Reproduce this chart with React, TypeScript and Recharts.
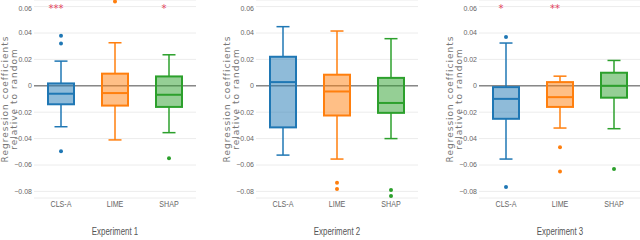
import { ComposedChart, Bar, XAxis, YAxis, CartesianGrid, Label } from 'recharts'

const experiments = ['Experiment 1', 'Experiment 2', 'Experiment 3']
const categories = ['CLS-A', 'LIME', 'SHAP']
const yTicks = [-0.08, -0.06, -0.04, -0.02, 0, 0.02, 0.04, 0.06]

// per experiment, per method
const whiskerLow = [
  [-0.031, -0.041, -0.0355],
  [-0.0525, -0.0555, -0.04],
  [-0.0555, -0.032, -0.0325]
]
const q1 = [
  [-0.014, -0.015, -0.016],
  [-0.0315, -0.0225, -0.0205],
  [-0.025, -0.016, -0.009]
]
const median = [
  [-0.006, -0.0055, -0.0068],
  [0.0028, -0.0043, -0.013],
  [-0.0099, -0.0086, 0]
]
const q3 = [
  [0.0018, 0.0092, 0.0071],
  [0.022, 0.0084, 0.006],
  [-0.001, 0.0028, 0.0099]
]
const whiskerHigh = [
  [0.0187, 0.0326, 0.0235],
  [0.0448, 0.0415, 0.0357],
  [0.0324, 0.0073, 0.0192]
]
const outliers = [
  [[0.038, 0.032, -0.0495], [0.0638], [-0.0548]],
  [[], [-0.0734, -0.0782], [-0.079, -0.0835]],
  [[0.037, -0.0767], [-0.0466, -0.065], [-0.063]]
]
const stars = [
  ['***', '', '*'],
  ['', '', ''],
  ['*', '**', '']
]
const starLevel = 0.06

const colors = ['#1f77b4', '#ff7f0e', '#2ca02c']
const sans = '"Liberation Sans", Arial, sans-serif'

function fmt(v: number): string {
  if (v === 0) return '0'
  return v < 0 ? '\u2212' + Math.abs(v).toFixed(2) : v.toFixed(2)
}

function BoxShape(props: any) {
  const { x, y, width, height, payload } = props
  const [lo, hi] = payload.range
  const top = Math.min(y, y + height)
  const bottom = Math.max(y, y + height)
  const py = (v: number) => top + ((hi - v) / (hi - lo)) * (bottom - top)
  const color = colors[categories.indexOf(payload.name)]
  const cx = x + width / 2
  const cap = width / 2
  return (
    <g>
      <line x1={cx} x2={cx} y1={py(payload.high)} y2={py(payload.q3)} stroke={color} strokeWidth={1.5} />
      <line x1={cx} x2={cx} y1={py(payload.q1)} y2={py(payload.low)} stroke={color} strokeWidth={1.5} />
      <line x1={cx - cap / 2} x2={cx + cap / 2} y1={py(payload.high)} y2={py(payload.high)} stroke={color} strokeWidth={1.5} />
      <line x1={cx - cap / 2} x2={cx + cap / 2} y1={py(payload.low)} y2={py(payload.low)} stroke={color} strokeWidth={1.5} />
      <rect
        x={x}
        y={py(payload.q3)}
        width={width}
        height={py(payload.q1) - py(payload.q3)}
        fill={color}
        fillOpacity={0.5}
        stroke={color}
        strokeWidth={2}
      />
      <line x1={x} x2={x + width} y1={py(payload.median)} y2={py(payload.median)} stroke={color} strokeWidth={2} />
      {payload.outliers.map((o: number, i: number) => (
        <circle key={i} cx={cx} cy={py(o)} r={2} fill={color} />
      ))}
      {payload.star && (
        <text x={cx - 5} y={py(starLevel) + 5} textAnchor="middle" fontSize={10} fill="#e2405e" fontFamily="DejaVu Sans">
          {payload.star}
        </text>
      )}
    </g>
  )
}

// text squeezed horizontally like the original figure
function NarrowText({ x, y, size, fill, children }: any) {
  return (
    <text transform={`translate(${x}, ${y}) scale(0.75, 1)`} textAnchor="middle" fontSize={size} fill={fill} fontFamily={sans}>
      {children}
    </text>
  )
}

function XTick(props: any) {
  const { x, y, payload } = props
  return (
    <NarrowText x={x} y={y + 7} size={9.5} fill="#666">
      {payload.value}
    </NarrowText>
  )
}

function YTick(props: any) {
  const { x, y, payload } = props
  return (
    <text x={x} y={y} dy="0.355em" textAnchor="end" fontSize={7} fill="#666" fontFamily={sans}>
      {fmt(payload.value)}
    </text>
  )
}

function XTitle(props: any) {
  const vb = props.viewBox || { x: 34, y: 198, width: 162, height: 42 }
  return (
    <NarrowText x={vb.x + vb.width / 2} y={vb.y + vb.height - 5} size={10.5} fill="#555">
      {props.value}
    </NarrowText>
  )
}

function YTitle(props: any) {
  const vb = props.viewBox || { x: 0, y: 0, width: 34, height: 198 }
  const cy = vb.y + vb.height / 2
  return (
    <g transform={`translate(${vb.x + 7.5}, ${cy}) rotate(-90)`}>
      <text x={0} y={0} textAnchor="middle" fontSize={9} letterSpacing={1} fill="#777" fontFamily="DejaVu Sans">
        Regression coefficients
      </text>
      <text x={0} y={9.5} textAnchor="middle" fontSize={9} letterSpacing={1} fill="#777" fontFamily="DejaVu Sans">
        relative to random
      </text>
    </g>
  )
}

function Panel({ e }: { e: number }) {
  const data = categories.map((name, i) => {
    const all = [whiskerLow[e][i], whiskerHigh[e][i], ...outliers[e][i]]
    return {
      name,
      range: [Math.min(...all), Math.max(...all)],
      low: whiskerLow[e][i],
      q1: q1[e][i],
      median: median[e][i],
      q3: q3[e][i],
      high: whiskerHigh[e][i],
      outliers: outliers[e][i],
      star: stars[e][i]
    }
  })
  return (
    <ComposedChart width={222} height={240} data={data} margin={{ top: 0, right: 26, bottom: 0, left: 0 }}>
      <CartesianGrid vertical={false} stroke="#ececec" />
      <CartesianGrid vertical={false} horizontalValues={[0]} stroke="#888" strokeWidth={1.5} />
      <XAxis dataKey="name" axisLine={false} tickLine={false} tickSize={0} tickMargin={2} height={42} tick={<XTick />}>
        <Label value={experiments[e]} content={<XTitle />} />
      </XAxis>
      <YAxis
        domain={[-0.085, 0.065]}
        ticks={yTicks}
        width={34}
        axisLine={false}
        tickLine={false}
        tickSize={0}
        tickMargin={2}
        tick={<YTick />}
      >
        <Label content={<YTitle />} />
      </YAxis>
      <Bar dataKey="range" barSize={26} shape={<BoxShape />} isAnimationActive={false} />
    </ComposedChart>
  )
}

export default function App() {
  const lefts = [0, 222, 445]
  return (
    <div style={{ position: 'fixed', left: 0, top: 0, width: 640, height: 240, overflow: 'hidden', background: '#fff' }}>
      {lefts.map((l, e) => (
        <div key={e} style={{ position: 'absolute', left: l, top: 0 }}>
          <Panel e={e} />
        </div>
      ))}
    </div>
  )
}
